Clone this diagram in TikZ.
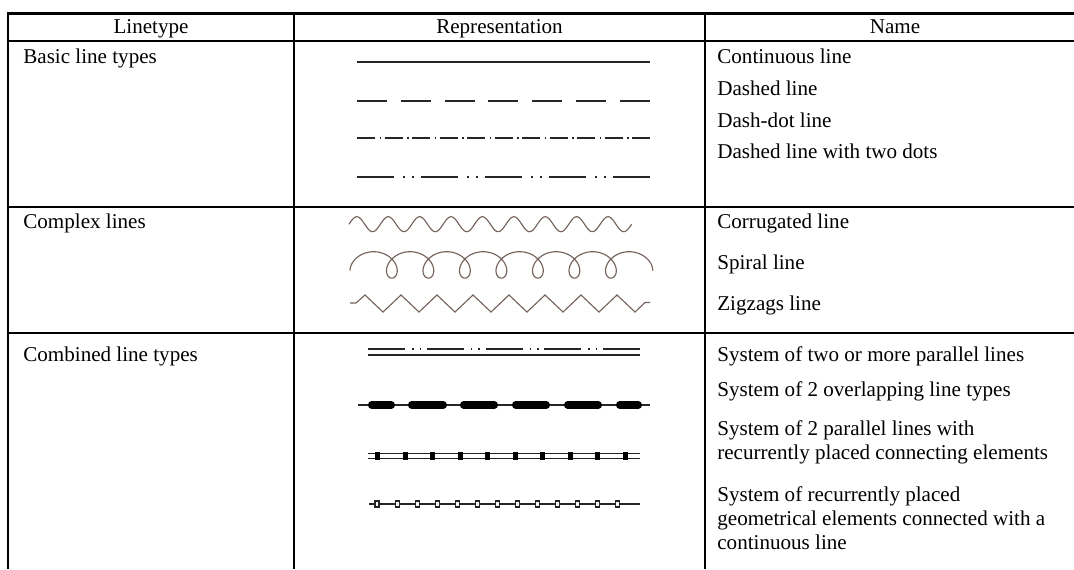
\documentclass[tikz,border=0pt]{standalone}
\usepackage{fontspec}
\setmainfont{Liberation Serif}

\definecolor{wavecolor}{RGB}{118,98,92}

\tikzset{
	rule/.style={line width=1.35pt, black},
	head/.style={anchor=base, inner sep=0pt, font=\fontsize{12}{13.8}\selectfont},
	cell/.style={anchor=base west, inner sep=0pt, align=left, font=\fontsize{12}{13.8}\selectfont},
	sample/.style={line width=0.8pt, black!85},
	wave/.style={line width=0.65pt, wavecolor},
	bar/.style={line width=4pt, line cap=round, black},
}

\begin{document}
\begin{tikzpicture}[x=0.02cm, y=-0.02cm]
	\useasboundingbox (0,0) rectangle (1074,569);

	% table rules
	\draw[rule] (1074,13.5) -- (8,13.5) -- (8,569);
	\draw[rule] (8,41) -- (1074,41);
	\draw[rule] (8,207) -- (1074,207);
	\draw[rule] (8,333) -- (1074,333);
	\draw[rule] (294,13.5) -- (294,569);
	\draw[rule] (705,13.5) -- (705,569);

	% header
	\node (linetype) at (151,33.5) [head] {Linetype};
	\node (representation) at (499.5,33.5) [head] {Representation};
	\node (name) at (895,33.5) [head] {Name};

	% first column
	\node (basic) at (23,63) [cell] {Basic line types};
	\node (complex) at (23,228) [cell] {Complex lines};
	\node (combined) at (23,361) [cell] {Combined line types};

	% name column (multi-line cells sit on their last line)
	\node (continuous) at (717,63) [cell] {Continuous line};
	\node (dashed) at (717,95) [cell] {Dashed line};
	\node (dashdot) at (717,127) [cell] {Dash-dot line};
	\node (twodots) at (717,158) [cell] {Dashed line with two dots};
	\node (corrugated) at (717,228) [cell] {Corrugated line};
	\node (spiral) at (717,269) [cell] {Spiral line};
	\node (zigzag) at (717,310) [cell] {Zigzags line};
	\node (parallel) at (717,361) [cell] {System of two or more parallel lines};
	\node (overlap) at (717,396) [cell] {System of 2 overlapping line types};
	\node (connecting) at (717,459.3) [cell] {System of 2 parallel lines with\\recurrently placed connecting elements};
	\node (geometric) at (717,549.5) [cell] {System of recurrently placed\\geometrical elements connected with a\\continuous line};

	% basic line types
	\draw[sample] (357,62) -- (650,62);
	\foreach \i in {0,...,6}
		\draw[sample] ({357+43.8*\i},101) -- ++(30,0);
	\foreach \i in {0,...,10}
		\draw[sample] ({357+27.5*\i},138) -- ++(18,0);
	\foreach \i in {0,...,9}
		\draw[sample] ({379.5+27.5*\i},138) -- ++(1.5,0);
	\foreach \i in {0,...,4}
		\draw[sample] ({357+64*\i},177) -- ++(37,0);
	\foreach \i in {0,...,3} {
		\draw[sample] ({403+64*\i},177) -- ++(1.5,0);
		\draw[sample] ({412+64*\i},177) -- ++(1.5,0);
	}

	% complex lines
	\draw[wave] plot[domain=0:9, samples=220, variable=\t] ({349+31.4*\t}, {224.2-7.5*sin(360*\t)});
	\draw[wave] plot[domain=1.115:49.15, samples=500, variable=\t] ({355.37+5.81*\t-13.2*sin(\t r)}, {264.9+13.2*cos(\t r)});
	\draw[wave] (350,303) -- (356,303) \foreach \k in {0,...,7} { -- ({365+36*\k},295) -- ({383+36*\k},312) } -- (645,302.5) -- (650,302.5);

	% combined line types
	\draw[sample] (368,355) -- (640,355);
	\foreach \i in {0,...,4}
		\draw[sample] ({368+58.75*\i},349) -- ++(37,0);
	\foreach \i in {0,...,3} {
		\draw[sample] ({412+58.75*\i},349) -- ++(1.5,0);
		\draw[sample] ({419.5+58.75*\i},349) -- ++(1.5,0);
	}

	\draw[sample] (358,405) -- (650,405);
	\foreach \a/\b in {368/395, 408/447, 460/498, 512/550, 564/602, 616/642}
		\draw[bar] ({\a+3.5},405) -- ({\b-3.5},405);

	\draw[sample] (368,453.3) -- (640,453.3);
	\draw[sample] (368,458.3) -- (640,458.3);
	\foreach \i in {0,...,9}
		\fill[black] ({375+27.5*\i},451.5) rectangle ++(5,8.5);

	\draw[sample] (369,504) -- (640,504);
	\foreach \i in {0,...,12}
		\draw[sample, line width=0.6pt, fill=white] ({375+20.08*\i},501) rectangle ++(4,6);
\end{tikzpicture}
\end{document}
